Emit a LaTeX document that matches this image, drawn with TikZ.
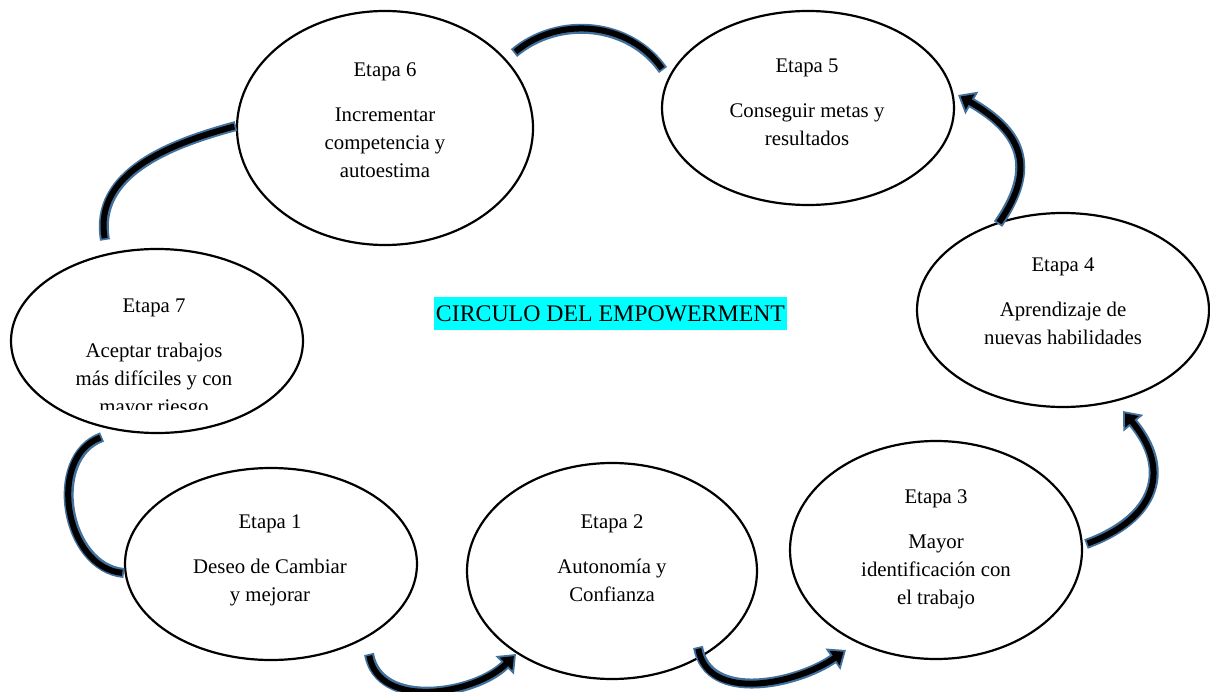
\documentclass[tikz,border=0pt]{standalone}
\usepackage{fontspec}
\setmainfont{Liberation Serif}
\usepackage{tikz}
\usetikzlibrary{arrows.meta,shapes.geometric}
\definecolor{bandblue}{RGB}{65,113,156}
\definecolor{ttlcyan}{RGB}{0,255,255}
\newcommand{\etfont}{\fontsize{20.8}{28}\selectfont}
\newcommand{\ttlfont}{\fontsize{23.8}{28}\selectfont}
\tikzset{
  etapa/.style={draw=black, line width=2.2pt, ellipse, inner sep=0pt},
  etxt/.style={font=\etfont, align=center, anchor=north, inner sep=0pt},
  ttl/.style={font=\ttlfont, fill=ttlcyan, inner sep=0pt, minimum width=353pt, minimum height=33pt},
  bandbg/.style={draw=bandblue, line width=10pt},
  bandfg/.style={draw=black, line width=6pt, shorten <=1.8pt, shorten >=1.8pt},
  tipbg/.style={-{Triangle[length=16pt,width=25pt]}},
  tipfg/.style={-{Triangle[length=11pt,width=17pt]}, shorten >=3pt},
}
\begin{document}
\begin{tikzpicture}[x=1pt, y=1pt]
  \useasboundingbox[fill=white] (0,0) rectangle (1210,-692);
  % stages
  \node[etapa, minimum width=292pt, minimum height=192pt] (e1) at (271,-564) {};
  \node[etapa, minimum width=290pt, minimum height=216pt] (e2) at (612,-571) {};
  \node[etapa, minimum width=292pt, minimum height=218pt] (e3) at (936,-550) {};
  \node[etapa, minimum width=292pt, minimum height=194pt] (e4) at (1063,-310) {};
  \node[etapa, minimum width=292pt, minimum height=194pt] (e5) at (808,-108) {};
  \node[etapa, minimum width=296pt, minimum height=234pt] (e6) at (385,-128) {};
  \node[etapa, minimum width=292pt, minimum height=184pt] (e7) at (157,-341) {};
  \node[etxt] (t1) at (270,-515) {Etapa 1\\[17pt] Deseo de Cambiar\\ y mejorar};
  \node[etxt] (t2) at (612,-515) {Etapa 2\\[17pt] Autonomía y\\ Confianza};
  \node[etxt] (t3) at (936,-490) {Etapa 3\\[17pt] Mayor\\ identificación con\\ el trabajo};
  \node[etxt] (t4) at (1063,-258) {Etapa 4\\[17pt] Aprendizaje de\\ nuevas habilidades};
  \node[etxt] (t5) at (807,-59) {Etapa 5\\[17pt] Conseguir metas y\\ resultados};
  \node[etxt] (t6) at (385,-63) {Etapa 6\\[17pt] Incrementar\\ competencia y\\ autoestima};
  \begin{scope}
    \clip (0,-250) rectangle (320,-409);
    \node[etxt] (t7) at (154,-299) {Etapa 7\\[17pt] Aceptar trabajos\\ más difíciles y con\\ mayor riesgo};
  \end{scope}
  \node[ttl] (ttl) at (610.5,-313.5) {CIRCULO DEL EMPOWERMENT};
  % band ends
  \coordinate (a12s) at (369,-654);  \coordinate (a12e) at (516,-654);
  \coordinate (a23s) at (698,-647);  \coordinate (a23e) at (846,-650);
  \coordinate (a34s) at (1086,-544); \coordinate (a34e) at (1123,-411);
  \coordinate (a45s) at (998,-224);  \coordinate (a45e) at (958,-95);
  \coordinate (a56s) at (663,-70);   \coordinate (a56e) at (514,-53);
  \coordinate (a67s) at (236,-126);  \coordinate (a67e) at (105,-240);
  \coordinate (a71s) at (102,-437);  \coordinate (a71e) at (124,-573);
  % curved bands
  \draw[bandbg, tipbg] (a12s) to[out=-80, in=225] (a12e);
  \draw[bandfg, tipfg] (a12s) to[out=-80, in=225] (a12e);
  \draw[bandbg, tipbg] (a23s) to[out=-80, in=215] (a23e);
  \draw[bandfg, tipfg] (a23s) to[out=-80, in=215] (a23e);
  \draw[bandbg, tipbg] (a34s) to[out=20, in=-50, looseness=1.4] (a34e);
  \draw[bandfg, tipfg] (a34s) to[out=20, in=-50, looseness=1.4] (a34e);
  \draw[bandbg, tipbg] (a45s) to[out=55, in=-30, looseness=1.35] (a45e);
  \draw[bandfg, tipfg] (a45s) to[out=55, in=-30, looseness=1.35] (a45e);
  \draw[bandbg] (a56s) to[out=125, in=40] (a56e);
  \draw[bandfg] (a56s) to[out=125, in=40] (a56e);
  \draw[bandbg] (a67s) to[out=195, in=100] (a67e);
  \draw[bandfg] (a67s) to[out=195, in=100] (a67e);
  \draw[bandbg] (a71s) to[out=200, in=175, looseness=1.1] (a71e);
  \draw[bandfg] (a71s) to[out=200, in=175, looseness=1.1] (a71e);
\end{tikzpicture}
\end{document}
